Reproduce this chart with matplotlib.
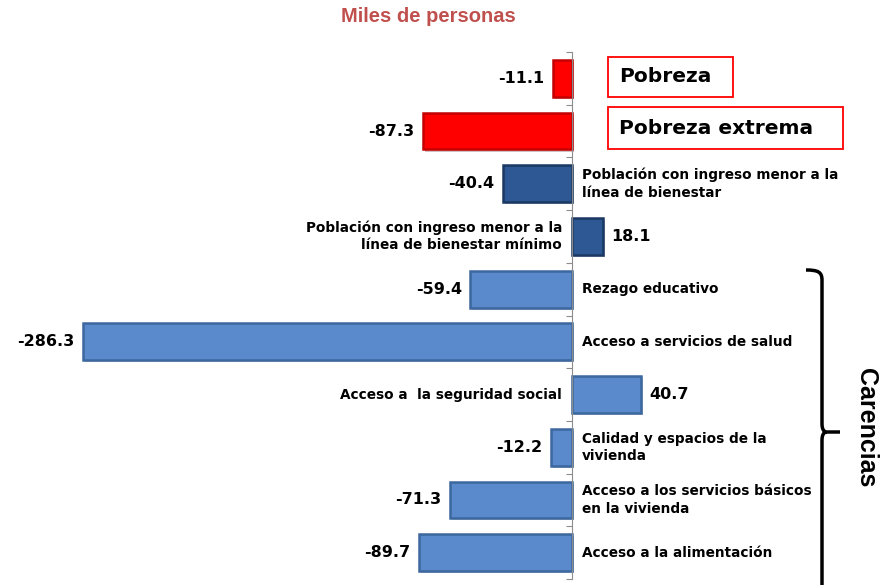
import matplotlib.pyplot as plt
import matplotlib.patheffects as pe
from matplotlib.patches import Rectangle, PathPatch
from matplotlib.path import Path
import numpy as np

# data (miles de personas)
categories = [
    "Pobreza",
    "Pobreza extrema",
    "Población con ingreso menor a la\nlínea de bienestar",
    "Población con ingreso menor a la\nlínea de bienestar mínimo",
    "Rezago educativo",
    "Acceso a servicios de salud",
    "Acceso a  la seguridad social",
    "Calidad y espacios de la\nvivienda",
    "Acceso a los servicios básicos\nen la vivienda",
    "Acceso a la alimentación",
]
values = [-11.1, -87.3, -40.4, 18.1, -59.4, -286.3, 40.7, -12.2, -71.3, -89.7]
groups = ["pobreza", "pobreza", "ingreso", "ingreso",
          "carencia", "carencia", "carencia", "carencia", "carencia", "carencia"]

FACE = {"pobreza": "#FF0000", "ingreso": "#2D5893", "carencia": "#5A8ACB"}
EDGE = {"pobreza": "#C40000", "ingreso": "#1B3862", "carencia": "#3C679F"}

fig = plt.figure(figsize=(8.88, 5.85), dpi=100)
ax = fig.add_axes([0, 6 / 585, 1, 527 / 585])

y = np.arange(len(values))
for yi, v, g in zip(y, values, groups):
    ax.barh(yi, v, height=0.7, color=FACE[g], edgecolor=EDGE[g], linewidth=1.8,
            zorder=3,
            path_effects=[pe.SimplePatchShadow(offset=(1.5, -1.5), alpha=0.25),
                          pe.Normal()])

ax.set_xlim(-334.9, 185.3)
ax.set_ylim(9.5, -0.5)

# zero line with separators
for s in ["top", "right", "bottom"]:
    ax.spines[s].set_visible(False)
ax.spines["left"].set_position(("data", 0))
ax.spines["left"].set_color("#8C8C8C")
ax.spines["left"].set_zorder(4)
ax.set_xticks([])
ax.set_yticks(np.arange(-0.5, len(values), 1))
ax.set_yticklabels([])
ax.tick_params(axis="y", length=4, color="#8C8C8C", direction="out")

for yi, v, name, g in zip(y, values, categories, groups):
    if v < 0:
        ax.annotate(f"{v:.1f}", (v, yi), xytext=(-6, 0), textcoords="offset points",
                    ha="right", va="center", fontsize=11.5, fontweight="bold")
        if g != "pobreza":
            ax.annotate(name, (0, yi), xytext=(7.5, 0), textcoords="offset points",
                        ha="left", va="center", fontsize=9.8, fontweight="bold",
                        linespacing=1.3)
    else:
        ax.annotate(f"{v:.1f}", (v, yi), xytext=(6, 0), textcoords="offset points",
                    ha="left", va="center", fontsize=11.5, fontweight="bold")
        ax.annotate(name, (0, yi), xytext=(-7, 0), textcoords="offset points",
                    ha="right", va="center", fontsize=9.8, fontweight="bold",
                    multialignment="right", linespacing=1.3)

# boxed labels for pobreza rows (figure pixel coordinates)
W, H = 888, 585
for (x0, y0, x1, y1), label in [((608, 57, 733, 97), categories[0]),
                                ((608, 107, 843, 149), categories[1])]:
    fig.patches.append(Rectangle((x0 / W, 1 - y1 / H), (x1 - x0) / W, (y1 - y0) / H,
                                 transform=fig.transFigure, fill=False,
                                 edgecolor="#FF0000", linewidth=1.3))
    fig.text(619 / W, 1 - (y0 + y1) / 2 / H, label, ha="left", va="center",
             fontsize=14.5, fontweight="bold")

# brace for carencias
bx, top, mid, bot = 822, 270, 432, 590
verts = [(806, top), (818, top), (822, top + 2), (822, top + 10),
         (822, mid - 8), (822, mid - 1), (826, mid), (840, mid),
         (826, mid), (822, mid + 1), (822, mid + 8),
         (822, bot)]
codes = [Path.MOVETO, Path.CURVE4, Path.CURVE4, Path.CURVE4,
         Path.LINETO, Path.CURVE3, Path.CURVE3, Path.LINETO,
         Path.MOVETO, Path.CURVE3, Path.CURVE3, Path.LINETO]
verts = [(vx / W, 1 - vy / H) for vx, vy in verts]
fig.patches.append(PathPatch(Path(verts, codes), transform=fig.transFigure,
                             fill=False, edgecolor="black", linewidth=2.5))
fig.text(866 / W, 1 - 428 / H, "Carencias", rotation=-90, ha="center", va="center",
         fontsize=18, fontweight="bold", family="Liberation Sans")

fig.text(428 / W, 1 - 17 / H, "Miles de personas", ha="center", va="center",
         fontsize=14.5, fontweight="bold", color="#C0504D", family="Liberation Sans")

fig.savefig("out.png", dpi=100)
